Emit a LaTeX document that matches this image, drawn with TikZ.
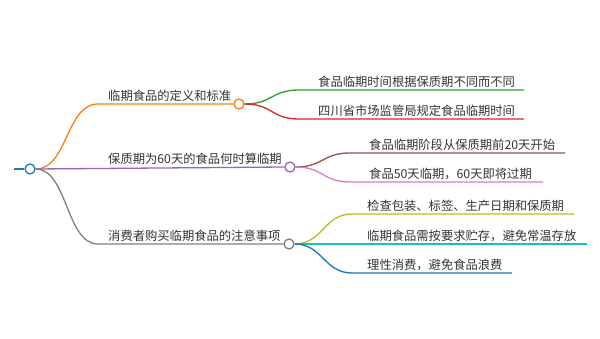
\documentclass[tikz,border=0pt]{standalone}
\usepackage{fontspec}
\setmainfont{Noto Sans CJK SC}
\definecolor{cblue}{HTML}{1F77B4}
\definecolor{corange}{HTML}{FF7F0E}
\definecolor{cgreen}{HTML}{2CA02C}
\definecolor{cred}{HTML}{D62728}
\definecolor{cpurple}{HTML}{9467BD}
\definecolor{cbrown}{HTML}{8C564B}
\definecolor{cpink}{HTML}{E377C2}
\definecolor{cgray}{HTML}{7F7F7F}
\definecolor{colive}{HTML}{BCBD22}
\definecolor{ccyan}{HTML}{17BECF}
\definecolor{txt}{HTML}{333333}
\begin{document}
\begin{tikzpicture}[x=1pt,y=-1pt,
  circ/.style={circle, draw, fill=white, line width=1.3pt, minimum size=10pt, inner sep=0pt},
  lbl/.style={font=\fontsize{12.3}{14}\selectfont, text=txt, inner sep=0pt, anchor=base west},
  link/.style={line width=1.3pt}]
\useasboundingbox (0,0) rectangle (600,339);

% root
\coordinate (stub) at (14,169);
\node[circ, draw=cblue] (root) at (30,169) {};
\draw[link, cblue] (stub) -- (root.west);

% level 1 circles
\node[circ, draw=corange] (c1) at (239,104) {};
\node[circ, draw=cpurple] (c2) at (290,167) {};
\node[circ, draw=cgray] (c3) at (289,244) {};

\coordinate (h1) at (98,104);
\coordinate (h3) at (98,244);

\draw[link, corange] (root.east) .. controls +(32,0) and +(-32,0) .. (h1) -- (c1.west);
\draw[link, cpurple] (root.east) -- (c2.west);
\draw[link, cgray] (root.east) .. controls +(32,0) and +(-32,0) .. (h3) -- (c3.west);

\node[lbl] (t1) at (108,101) {临期食品的定义和标准};
\node[lbl] (t2) at (108,164) {保质期为60天的食品何时算临期};
\node[lbl] (t3) at (108,241) {消费者购买临期食品的注意事项};

% branch 1 children
\coordinate (a1) at (299,90);  \coordinate (a1e) at (524,90);
\coordinate (a2) at (299,119); \coordinate (a2e) at (524,119);
\draw[link, cgreen] (c1.east) .. controls +(28,0) and +(-28,0) .. (a1) -- (a1e);
\draw[link, cred] (c1.east) .. controls +(28,0) and +(-28,0) .. (a2) -- (a2e);
\node[lbl] (u1) at (318,87) {食品临期时间根据保质期不同而不同};
\node[lbl] (u2) at (318,116) {四川省市场监管局规定食品临期时间};

% branch 2 children
\coordinate (b1) at (350,153); \coordinate (b1e) at (565,153);
\coordinate (b2) at (350,182); \coordinate (b2e) at (543,182);
\draw[link, cbrown] (c2.east) .. controls +(28,0) and +(-28,0) .. (b1) -- (b1e);
\draw[link, cpink] (c2.east) .. controls +(28,0) and +(-28,0) .. (b2) -- (b2e);
\node[lbl] (v1) at (369,150) {食品临期阶段从保质期前20天开始};
\node[lbl] (v2) at (369,179) {食品50天临期，60天即将过期};

% branch 3 children
\coordinate (d1) at (352,214); \coordinate (d1e) at (574,214);
\coordinate (d2e) at (587,244);
\coordinate (d3) at (352,273); \coordinate (d3e) at (512,273);
\draw[link, colive] (c3.east) .. controls +(28,0) and +(-28,0) .. (d1) -- (d1e);
\draw[link, ccyan] (c3.east) -- (d2e);
\draw[link, cblue] (c3.east) .. controls +(28,0) and +(-28,0) .. (d3) -- (d3e);
\node[lbl] (w1) at (367,211) {检查包装、标签、生产日期和保质期};
\node[lbl] (w2) at (367,241) {临期食品需按要求贮存，避免常温存放};
\node[lbl] (w3) at (367,270) {理性消费，避免食品浪费};
\end{tikzpicture}
\end{document}
